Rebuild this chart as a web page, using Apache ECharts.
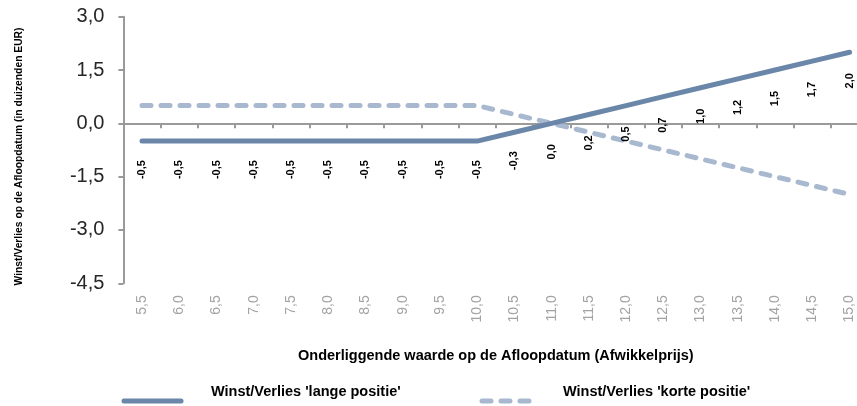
<!DOCTYPE html>
<html>
<head>
<meta charset="utf-8">
<script src="https://cdn.jsdelivr.net/npm/echarts@6/dist/echarts.min.js"></script>
<style>
html,body{margin:0;padding:0;background:#fff;}
#chart{width:857px;height:406px;}
</style>
</head>
<body>
<div id="chart"></div>
<script>
// Data
var categories = [5.5, 6.0, 6.5, 7.0, 7.5, 8.0, 8.5, 9.0, 9.5, 10.0, 10.5, 11.0, 11.5, 12.0, 12.5, 13.0, 13.5, 14.0, 14.5, 15.0];
var tickLabels = ['5,5','6,0','6,5','7,0','7,5','8,0','8,5','9,0','9,5','10,0','10,5','11,0','11,5','12,0','12,5','13,0','13,5','14,0','14,5','15,0'];
var longValues = [-0.5,-0.5,-0.5,-0.5,-0.5,-0.5,-0.5,-0.5,-0.5,-0.5,-0.25,0.0,0.25,0.5,0.75,1.0,1.25,1.5,1.75,2.0];
var longLabels = ['-0,5','-0,5','-0,5','-0,5','-0,5','-0,5','-0,5','-0,5','-0,5','-0,5','-0,3','0,0','0,2','0,5','0,7','1,0','1,2','1,5','1,7','2,0'];
var shortValues = [0.5,0.5,0.5,0.5,0.5,0.5,0.5,0.5,0.5,0.5,0.25,0.0,-0.25,-0.5,-0.75,-1.0,-1.25,-1.5,-1.75,-2.0];
var seriesNames = ["Winst/Verlies 'lange positie'", "Winst/Verlies 'korte positie'"];
var yTitle = 'Winst/Verlies op de Afloopdatum (in duizenden EUR)';
var xTitle = 'Onderliggende waarde op de Afloopdatum (Afwikkelprijs)';

var longColor = '#6a86a8';
var shortColor = '#a7b8cf';
var axisColor = '#9a9a9a';
var fontFam = '"Liberation Sans", Arial, sans-serif';

var chart = echarts.init(document.getElementById('chart'), null, {renderer: 'canvas'});

chart.setOption({
  animation: false,
  grid: {left: 123.4, top: 16.7, width: 744.8, height: 266.6, containLabel: false, outerBoundsMode: 'none'},
  xAxis: [{
    type: 'category',
    data: tickLabels,
    boundaryGap: true,
    axisLine: {onZero: true, lineStyle: {color: axisColor, width: 2}},
    axisTick: {show: true, length: 5, lineStyle: {color: axisColor, width: 2}},
    axisLabel: {show: false},
    splitLine: {show: false}
  }, {
    type: 'category',
    data: tickLabels,
    position: 'bottom',
    boundaryGap: true,
    axisLine: {show: false, onZero: false},
    axisTick: {show: false},
    axisLabel: {show: true, rotate: 90, margin: 12, color: '#a3a3a3', fontSize: 14, fontFamily: fontFam, interval: 0},
    name: xTitle,
    nameLocation: 'middle',
    nameGap: 65.5,
    nameTextStyle: {fontSize: 14.5, fontWeight: 'bold', color: '#000', fontFamily: fontFam, verticalAlign: 'top'}
  }],
  yAxis: {
    type: 'value',
    min: -4.5, max: 3.0, interval: 1.5,
    axisLine: {show: true, lineStyle: {color: axisColor, width: 2}},
    axisTick: {show: true, length: 5, lineStyle: {color: axisColor, width: 2}},
    splitLine: {show: false},
    axisLabel: {
      margin: 19, fontSize: 20, color: '#262626', fontFamily: fontFam,
      formatter: function (v) { var s = Math.abs(v) < 1e-9 ? '0.0' : v.toFixed(1); return s.replace('.', ','); }
    },
    name: yTitle,
    nameLocation: 'middle',
    nameGap: 99,
    nameTextStyle: {fontSize: 10.3, fontWeight: 'bold', color: '#000', fontFamily: fontFam, padding: [0, 13, 0, 0]}
  },
  series: [{
    name: seriesNames[1],
    type: 'line',
    xAxisIndex: 0,
    data: shortValues,
    symbol: 'none',
    lineStyle: {color: shortColor, width: 5, type: [9, 10], cap: 'round'},
    z: 2
  }, {
    name: seriesNames[0],
    type: 'line',
    xAxisIndex: 0,
    data: longValues,
    showSymbol: true,
    symbol: 'circle',
    symbolSize: 1,
    itemStyle: {color: 'rgba(0,0,0,0)', borderWidth: 0},
    lineStyle: {color: longColor, width: 5, cap: 'round'},
    z: 3,
    label: {
      show: true,
      rotate: 90,
      position: [0.5, 29],
      align: 'center',
      verticalAlign: 'middle',
      fontSize: 11,
      fontWeight: 'bold',
      color: '#000',
      fontFamily: fontFam,
      formatter: function (p) { return longLabels[p.dataIndex]; }
    },
    labelLayout: {hideOverlap: false}
  }],
  graphic: [
    {type: 'line', shape: {x1: 124, y1: 401, x2: 181, y2: 401}, style: {stroke: longColor, lineWidth: 5, lineCap: 'round'}},
    {type: 'text', left: 211, top: 384, style: {text: seriesNames[0], font: 'bold 14.5px ' + fontFam, fill: '#000'}},
    {type: 'line', shape: {x1: 482, y1: 401, x2: 529, y2: 401}, style: {stroke: shortColor, lineWidth: 5, lineDash: [9, 10], lineCap: 'round'}},
    {type: 'text', left: 563, top: 384, style: {text: seriesNames[1], font: 'bold 14.5px ' + fontFam, fill: '#000'}}
  ]
});
</script>
</body>
</html>
